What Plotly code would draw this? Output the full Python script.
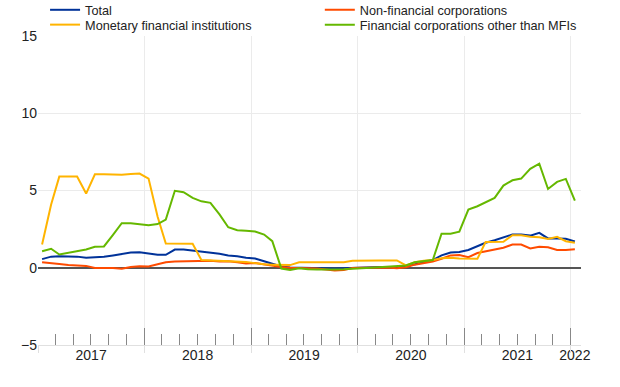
import pandas as pd
import plotly.graph_objects as go

dates = pd.date_range("2017-01-01", periods=61, freq="MS") + pd.Timedelta(days=14)

total = [0.56, 0.72, 0.75, 0.73, 0.72, 0.65, 0.68, 0.72, 0.8, 0.9, 0.98, 1.0,
         0.92, 0.84, 0.84, 1.18, 1.18, 1.12, 1.03, 0.97, 0.9, 0.8, 0.75, 0.65,
         0.6, 0.42, 0.25, 0.08, 0.02, 0.0, -0.03, -0.05, -0.05, -0.05, -0.03, 0.0,
         0.02, 0.03, 0.05, 0.05, 0.05, 0.1, 0.2, 0.35, 0.5, 0.8, 0.98, 1.02,
         1.15, 1.38, 1.62, 1.78, 1.95, 2.15, 2.15, 2.08, 2.26, 1.9, 1.9, 1.88, 1.7]

nfc = [0.36, 0.32, 0.25, 0.18, 0.15, 0.12, -0.02, 0.0, -0.02, -0.07, 0.05, 0.1,
       0.08, 0.23, 0.36, 0.41, 0.43, 0.44, 0.47, 0.45, 0.4, 0.42, 0.36, 0.28,
       0.3, 0.2, 0.12, 0.05, 0.0, -0.02, -0.03, -0.05, -0.12, -0.18, -0.15, -0.02,
       0.0, 0.0, 0.02, 0.02, -0.03, 0.03, 0.2, 0.3, 0.4, 0.58, 0.8, 0.82,
       0.68, 0.95, 1.07, 1.2, 1.3, 1.5, 1.5, 1.25, 1.36, 1.33, 1.15, 1.15, 1.2]

mfi = [1.5, 4.1, 5.9, 5.9, 5.9, 4.8, 6.05, 6.05, 6.05, 6.02, 6.07, 6.1,
       5.77, 3.3, 1.57, 1.55, 1.55, 1.55, 0.5, 0.47, 0.47, 0.45, 0.42, 0.38,
       0.3, 0.22, 0.2, 0.2, 0.17, 0.36, 0.36, 0.37, 0.37, 0.36, 0.36, 0.45,
       0.47, 0.47, 0.47, 0.47, 0.47, 0.15, 0.35, 0.45, 0.5, 0.62, 0.65, 0.6,
       0.58, 0.58, 1.66, 1.66, 1.68, 2.1, 2.1, 2.0, 1.97, 1.87, 2.0, 1.72, 1.62]

ofc = [1.07, 1.23, 0.86, 0.97, 1.07, 1.18, 1.36, 1.38, 2.13, 2.88, 2.88, 2.83,
       2.75, 2.83, 3.12, 4.98, 4.89, 4.52, 4.3, 4.2, 3.45, 2.62, 2.43, 2.39,
       2.35, 2.15, 1.72, -0.05, -0.15, -0.03, -0.1, -0.12, -0.13, -0.12, -0.1, -0.05,
       -0.03, 0.0, 0.03, 0.05, 0.07, 0.15, 0.36, 0.45, 0.5, 2.2, 2.2, 2.33,
       3.77, 3.98, 4.24, 4.52, 5.32, 5.66, 5.77, 6.4, 6.74, 5.1, 5.56, 5.75, 4.35]

year_label_pos = ["2017-07-02", "2018-07-02", "2019-07-02", "2020-07-02", "2021-07-02", "2022-01-15"]
year_labels = ["2017", "2018", "2019", "2020", "2021", "2022"]

x_range = ["2017-01-01", "2022-02-05"]

# name, values, colour, legend id, legend x (paper), legend y (paper)
series = [
    ("Total", total, "#003299", "legend", 0.013, 1.084),
    ("Non-financial corporations", nfc, "#ff4b00", "legend2", 0.519, 1.084),
    ("Monetary financial institutions", mfi, "#ffb400", "legend3", 0.013, 1.036),
    ("Financial corporations other than MFIs", ofc, "#65b800", "legend4", 0.519, 1.036),
]

fig = go.Figure()
legend_layouts = {}
for name, vals, color, lg, lx, ly in series:
    fig.add_trace(go.Scatter(x=dates, y=vals, mode="lines", name=name,
                             line=dict(color=color, width=2), legend=lg))
    legend_layouts[lg] = dict(orientation="v", x=lx, xanchor="left", xref="paper",
                              y=ly, yanchor="middle", yref="paper",
                              font=dict(size=12.7, color="#222"),
                              bgcolor="rgba(0,0,0,0)", itemwidth=30)

# invisible traces to carry the label axis and the outer year ticks
fig.add_trace(go.Scatter(x=[dates[0]], y=[0], xaxis="x2", mode="markers",
                         marker=dict(opacity=0), showlegend=False, hoverinfo="skip"))
fig.add_trace(go.Scatter(x=[dates[0]], y=[0], xaxis="x3", mode="markers",
                         marker=dict(opacity=0), showlegend=False, hoverinfo="skip"))

fig.update_layout(
    width=620, height=387,
    margin=dict(l=38, r=39, t=36, b=42, autoexpand=False),
    paper_bgcolor="white", plot_bgcolor="white",
    font=dict(family="Liberation Sans, Arial, sans-serif", color="#222"),
    showlegend=True,
    xaxis=dict(type="date", range=x_range, dtick="M12", tick0="2017-01-01",
               showticklabels=False, ticks="inside", ticklen=17, tickcolor="#888",
               tickwidth=1, showgrid=True, gridcolor="#ebebeb", gridwidth=1,
               showline=True, linecolor="#e0e0e0", linewidth=1, zeroline=False,
               minor=dict(ticks="inside", ticklen=11, tickcolor="#888", dtick="M2",
                          tick0="2017-01-01", showgrid=False)),
    xaxis2=dict(type="date", range=x_range, overlaying="x", anchor="y", side="bottom",
                tickmode="array", tickvals=year_label_pos, ticktext=year_labels,
                ticks="", showgrid=False, showline=False, zeroline=False,
                tickfont=dict(size=14, color="#222")),
    xaxis3=dict(type="date", range=x_range, overlaying="x", anchor="y", side="bottom",
                dtick="M12", tick0="2017-01-01", ticks="outside", ticklen=7,
                tickcolor="#e0e0e0", showticklabels=False, showgrid=False,
                showline=False, zeroline=False),
    yaxis=dict(range=[-5, 15], tickvals=[-5, 0, 5, 10, 15], showgrid=True,
               gridcolor="#ebebeb", gridwidth=1, zeroline=True, zerolinecolor="#555",
               zerolinewidth=1.5, ticks="", tickfont=dict(size=14, color="#222"),
               showline=False, fixedrange=True),
    **legend_layouts,
)

fig.write_html("out.html", config={"displayModeBar": False},
               post_script="document.body.style.margin='0';")
